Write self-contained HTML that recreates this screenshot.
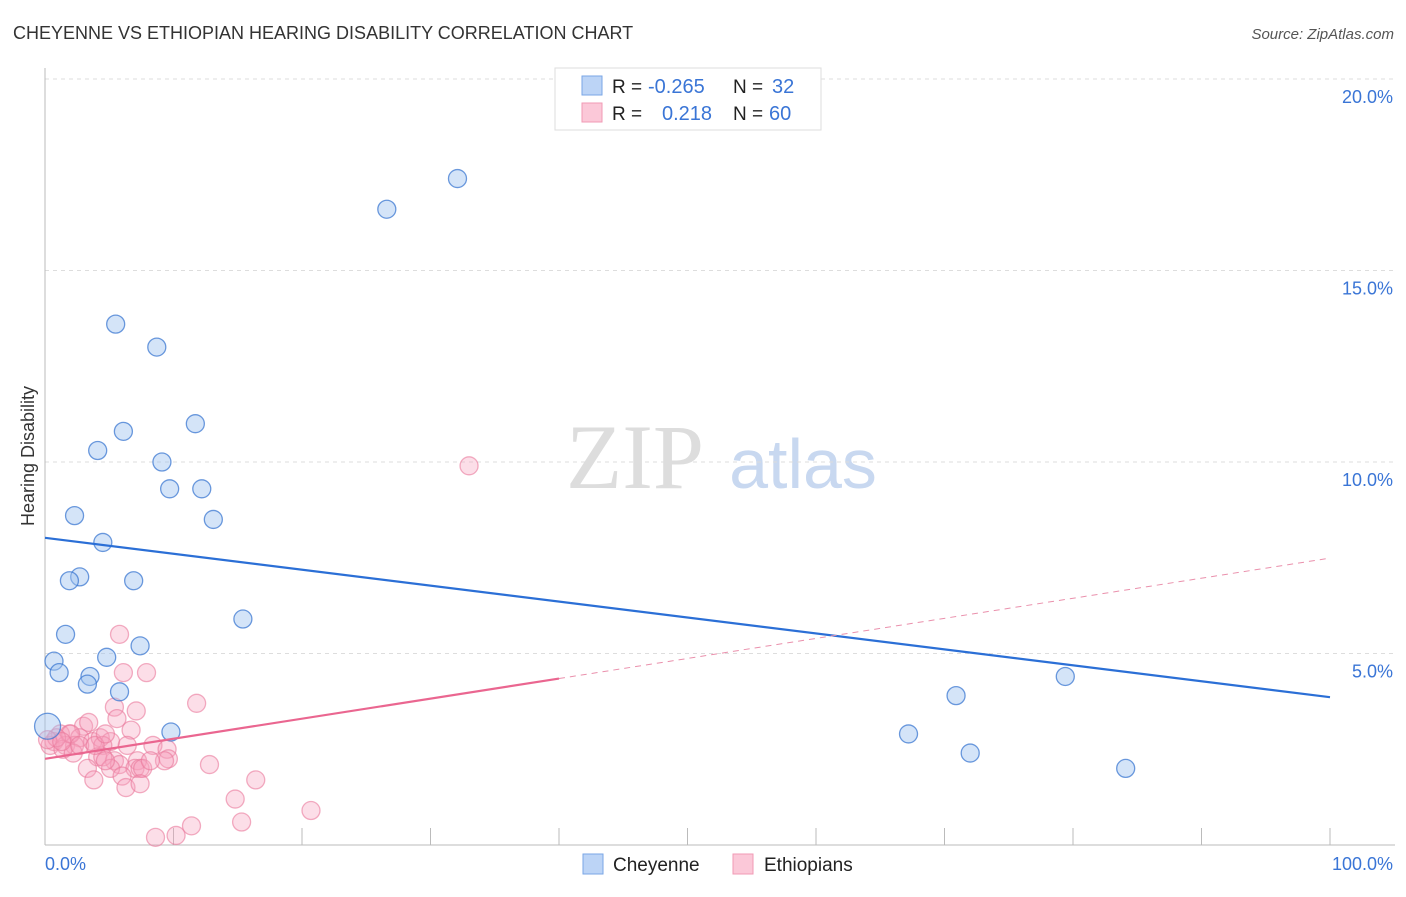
<!DOCTYPE html>
<html><head><meta charset="utf-8"><style>
body{margin:0;background:#fff;font-family:"Liberation Sans",sans-serif;}
svg text{font-family:"Liberation Sans",sans-serif;}
</style></head><body>
<svg width="1406" height="892" viewBox="0 0 1406 892" xmlns="http://www.w3.org/2000/svg" id="chart">
<text x="13" y="39" font-size="18" fill="#333">CHEYENNE VS ETHIOPIAN HEARING DISABILITY CORRELATION CHART</text>
<text x="1394" y="39" font-size="15" fill="#555" text-anchor="end" font-style="italic">Source: ZipAtlas.com</text>
<g>
<text x="635" y="488" font-size="92" fill="#ddd" text-anchor="middle" font-family="Liberation Serif" style="font-family:'Liberation Serif',serif">ZIP</text>
<text x="803" y="488" font-size="70" fill="#c8d8f0" text-anchor="middle">atlas</text>
</g>
<g id="grid"></g>
<g id="axes"></g>
<g id="pink-pts"></g>
<g id="blue-pts"></g>
<g id="lines"></g>
<text transform="translate(34,456) rotate(-90)" font-size="18" fill="#333" text-anchor="middle">Hearing Disability</text>
<text x="45" y="870" font-size="18" fill="#3a75d6">0.0%</text>
<text x="1393" y="870" font-size="18" fill="#3a75d6" text-anchor="end">100.0%</text>
<g>
<rect x="555" y="68" width="266" height="62" fill="#fff" stroke="#ddd"/>
<rect x="582" y="76" width="20" height="19" fill="#bcd4f6" stroke="#7aa6e6"/>
<rect x="582" y="103" width="20" height="19" fill="#fbc8d8" stroke="#f09ab4"/>
<text x="612" y="93" font-size="19" fill="#222">R =</text>
<text x="648" y="93" font-size="20" fill="#3a75d6">-0.265</text>
<text x="733" y="93" font-size="19" fill="#222">N =</text>
<text x="772" y="93" font-size="20" fill="#3a75d6">32</text>
<text x="612" y="120" font-size="19" fill="#222">R =</text>
<text x="662" y="120" font-size="20" fill="#3a75d6">0.218</text>
<text x="733" y="120" font-size="19" fill="#222">N =</text>
<text x="769" y="120" font-size="20" fill="#3a75d6">60</text>
</g>
<g>
<rect x="583" y="854" width="20" height="20" fill="#bcd4f6" stroke="#7aa6e6"/>
<text x="613" y="871" font-size="19" fill="#222">Cheyenne</text>
<rect x="733" y="854" width="20" height="20" fill="#fbc8d8" stroke="#f09ab4"/>
<text x="764" y="871" font-size="19" fill="#222">Ethiopians</text>
</g>
</svg>
<script>
const yTicks=[5,10,15,20];
const yTickLabels=["5.0%","10.0%","15.0%","20.0%"];
const cheyenneX=[32.1,26.6,5.5,8.7,6.1,11.7,4.1,9.1,9.7,12.2,2.3,13.1,4.5,6.9,2.7,1.9,15.4,1.6,7.4,4.8,0.7,1.1,3.5,3.3,5.8,9.8,0.2,67.2,70.9,72,79.4,84.1];
const cheyenneY=[17.4,16.6,13.6,13.0,10.8,11.0,10.3,10.0,9.3,9.3,8.6,8.5,7.9,6.9,7.0,6.9,5.9,5.5,5.2,4.9,4.8,4.5,4.4,4.2,4.0,2.95,3.1,2.9,3.9,2.4,4.4,2.0];
const ethX=[5.8,6.1,7.9,5.4,7.1,11.8,33,3.0,3.4,5.6,6.7,1.2,1.9,2.7,3.7,4.3,0.7,0.4,1.6,2.3,5.1,6.4,8.4,9.5,4.5,1.4,2.2,4.1,5.4,7.2,9.6,9.3,3.3,4.5,5.8,5.1,7.0,7.4,4.7,12.8,7.6,6.0,3.8,6.3,7.4,16.4,14.8,20.7,15.3,11.4,8.6,10.2,2.0,0.9,0.2,1.3,2.7,3.9,4.7,8.2];
const ethY=[5.5,4.5,4.5,3.6,3.5,3.7,9.9,3.1,3.2,3.3,3.0,2.9,2.9,2.8,2.7,2.8,2.7,2.6,2.6,2.6,2.7,2.6,2.6,2.5,2.6,2.5,2.4,2.3,2.2,2.2,2.25,2.2,2.0,2.3,2.1,2.0,2.0,2.0,2.2,2.1,2.0,1.8,1.7,1.5,1.6,1.7,1.2,0.9,0.6,0.5,0.2,0.25,2.9,2.8,2.75,2.7,2.6,2.6,2.9,2.2];
const blueLine=[8.02,3.86];
const pinkLine=[2.25,7.49];
const NS="http://www.w3.org/2000/svg";
const X0=45,X1=1330,Y0=845,PY=38.3;
const sx=v=>X0+(X1-X0)*v/100, sy=v=>Y0-PY*v;
function mk(tag,attrs,parent){const e=document.createElementNS(NS,tag);for(const k in attrs)e.setAttribute(k,attrs[k]);document.getElementById(parent).appendChild(e);return e;}
yTicks.forEach((t,i)=>{
 const l=mk('line',{x1:45,x2:1395,y1:sy(t),y2:sy(t),stroke:'#ddd','stroke-dasharray':'4,4'},'grid');
 
 
 const tx=mk('text',{x:1393,y:sy(t)+24,'font-size':18,fill:'#3a75d6','text-anchor':'end'},'grid');
 tx.textContent=yTickLabels[i];
 
 
});
let a=mk('line',{x1:45,x2:45,y1:68,y2:845,stroke:'#bbb'},'axes');


a=mk('line',{x1:45,x2:1395,y1:845,y2:845,stroke:'#bbb'},'axes');


for(let i=1;i<=10;i++){const t=mk('line',{x1:sx(i*10),x2:sx(i*10),y1:828,y2:845,stroke:'#bbb'},'axes');
 
 }
ethX.forEach((x,i)=>{const c=mk('circle',{cx:sx(x),cy:sy(ethY[i]),r:9,fill:'rgba(247,160,188,0.35)',stroke:'rgba(234,120,155,0.6)','stroke-width':1.3},'pink-pts');
 
 });
cheyenneX.forEach((x,i)=>{const c=mk('circle',{cx:sx(x),cy:sy(cheyenneY[i]),r:(i==26?13:9),fill:'rgba(160,196,240,0.45)',stroke:'rgba(60,120,210,0.75)','stroke-width':1.3},'blue-pts');
 
 });
let L=mk('line',{x1:sx(0),y1:sy(blueLine[0]),x2:sx(100),y2:sy(blueLine[1]),stroke:'#2b6fd6','stroke-width':2.2},'lines');


const pm=pinkLine[0]+(pinkLine[1]-pinkLine[0])*0.4;
L=mk('line',{x1:sx(0),y1:sy(pinkLine[0]),x2:sx(40),y2:sy(pm),stroke:'#ea6690','stroke-width':2.2},'lines');


L=mk('line',{x1:sx(40),y1:sy(pm),x2:sx(100),y2:sy(pinkLine[1]),stroke:'#ea90ac','stroke-width':1,'stroke-dasharray':'6,5'},'lines');


</script>
</body></html>
